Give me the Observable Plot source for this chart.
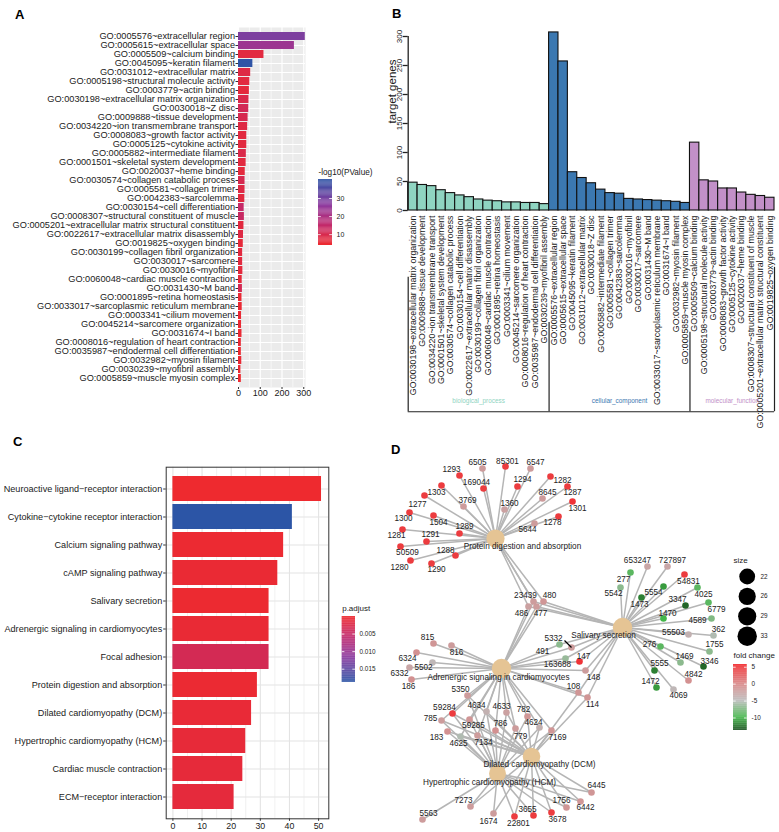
<!DOCTYPE html>
<html><head><meta charset="utf-8">
<script src="https://cdn.jsdelivr.net/npm/d3@7"></script>
<script src="https://cdn.jsdelivr.net/npm/@observablehq/plot@0.6"></script>
<style>
body{margin:0;background:#fff;}
#fig{position:relative;width:779px;height:832px;overflow:hidden;background:#fff;font-family:"Liberation Sans",Arial,Helvetica,sans-serif;}
.panel{position:absolute;}
.panel svg{overflow:visible;display:block;}
.tag{position:absolute;font-weight:bold;font-size:13px;line-height:1;color:#000;}
</style></head><body><div id="fig"></div>
<script>
// ---------------- DATA ----------------
const goTerms = [
 "GO:0005576~extracellular region","GO:0005615~extracellular space","GO:0005509~calcium binding",
 "GO:0045095~keratin filament","GO:0031012~extracellular matrix","GO:0005198~structural molecule activity",
 "GO:0003779~actin binding","GO:0030198~extracellular matrix organization","GO:0030018~Z disc",
 "GO:0009888~tissue development","GO:0034220~ion transmembrane transport","GO:0008083~growth factor activity",
 "GO:0005125~cytokine activity","GO:0005882~intermediate filament","GO:0001501~skeletal system development",
 "GO:0020037~heme binding","GO:0030574~collagen catabolic process","GO:0005581~collagen trimer",
 "GO:0042383~sarcolemma","GO:0030154~cell differentiation","GO:0008307~structural constituent of muscle",
 "GO:0005201~extracellular matrix structural constituent","GO:0022617~extracellular matrix disassembly",
 "GO:0019825~oxygen binding","GO:0030199~collagen fibril organization","GO:0030017~sarcomere",
 "GO:0030016~myofibril","GO:0060048~cardiac muscle contraction","GO:0031430~M band",
 "GO:0001895~retina homeostasis","GO:0033017~sarcoplasmic reticulum membrane","GO:0003341~cilium movement",
 "GO:0045214~sarcomere organization","GO:0031674~I band","GO:0008016~regulation of heart contraction",
 "GO:0035987~endodermal cell differentiation","GO:0032982~myosin filament","GO:0030239~myofibril assembly",
 "GO:0005859~muscle myosin complex"
];
const goCounts = [307,257,117,66,56,52,50,48,47,44,42,38,38,36,35,31,30,30,29,26,27,25,23,22,19,19,20,17,18,16,17,14,14,16,13,13,15,11,13];
const goLogP   = [28.5,23,7,40,8,7,6.5,9,11,10,8,7,7,9,7,6.5,10,8,7,14,13.5,7,8,6,7,7,6.5,6,10.5,5,5,5,5,5,5,4.5,5,4.5,4.2];
const goCategory = ["CC","CC","MF","CC","CC","MF","MF","BP","CC","BP","BP","MF","MF","CC","BP","MF","BP","CC","CC","BP","MF","MF","BP","MF","BP","CC","CC","BP","CC","BP","CC","BP","BP","CC","BP","BP","CC","BP","CC"];
const groupCodes = ["BP","CC","MF"];
const groupNames = ["biological_process","cellular_component","molecular_function"];
const groupColors = ["#8fd4c1","#3b78b1","#c290c8"];
const aTicks = [0,100,200,300];
const aMinor = [50,150,250];
const aLegendTicks = [10,20,30];
const bTicks = [0,50,100,150,200,250,300];

const keggTerms = ["Neuroactive ligand\u2212receptor interaction","Cytokine\u2212cytokine receptor interaction",
 "Calcium signaling pathway","cAMP signaling pathway","Salivary secretion","Adrenergic signaling in cardiomyocytes",
 "Focal adhesion","Protein digestion and absorption","Dilated cardiomyopathy (DCM)",
 "Hypertrophic cardiomyopathy (HCM)","Cardiac muscle contraction","ECM\u2212receptor interaction"];
const keggCounts = [51,41,38,36,33,33,33,29,27,25,24,21];
const keggPadj   = [0.00002,0.0188,0.0003,0.0005,0.0002,0.0006,0.0034,0.0004,0.0007,0.0009,0.001,0.0012];
const cTicks = [0,10,20,30,40,50];
const cMinor = [5,15,25,35,45];
const cLegendTicks = [0.005,0.010,0.015];

// network (layout coordinates)
const hubCodes  = ["P","S","A","D","H"];
const hubNames  = ["Protein digestion and absorption","Salivary secretion","Adrenergic signaling in cardiomyocytes","Dilated cardiomyopathy (DCM)","Hypertrophic cardiomyopathy (HCM)"];
const hubSizes  = [29,33,33,27,25];
const hubX      = [495,622,501,531,497];
const hubY      = [538,627,668,756,773];
const hubLabelX = [522,603,498,539,489];
const hubLabelY = [546,635,677,764,782];
// [gene id, fold change, x, y, label x, label y, hubs]
const genes = [
 ["6505",-2,482,468,477,462,"P"],["85301",4.5,505,466,507,461,"P"],["6547",-2,530,468,535,462,"P"],
 ["1293",4.5,459,475,451,469,"P"],["169044",4.5,483,488,476,482,"P"],["1294",4.5,517,486,522,479,"P"],
 ["1282",4.5,550,476,562,480,"P"],["1287",4.5,567,486,572,492,"P"],["8645",-2,542,498,547,492,"P"],
 ["1301",5,572,501,577,508,"P"],["1303",4.5,441,485,436,492,"P"],["3769",-2,463,506,467,500,"P"],
 ["1360",-2.5,504,509,509,503,"P"],["1277",4.5,424,495,417,504,"P"],["1300",4.5,409,512,403,518,"P"],
 ["1504",4.5,433,515,438,522,"P"],["1289",4.5,459,533,464,526,"P"],["1278",4.5,558,516,552,522,"P"],
 ["5644",-2,534,523,527,529,"P"],["1281",4.5,402,529,396,535,"P"],["1291",4.5,426,541,430,534,"P"],
 ["50509",4.5,400,546,407,552,"P"],["1288",4.5,455,555,445,550,"P"],["1280",4.5,410,560,399,567,"P"],
 ["1290",4.5,431,563,436,569,"P"],
 ["23439",-2,533,601,525,595,"PSA"],["480",-1.5,543,601,549,595,"PSA"],
 ["486",-2.5,528,606,521,613,"PSA"],["477",-2,536,606,540,613,"PSA"],
 ["653247",-3,647,566,637,560,"S"],["727897",-3,667,566,672,560,"S"],["277",-9,630,572,623,579,"S"],
 ["54831",4.5,684,574,688,581,"S"],["5542",-7,620,587,613,593,"S"],["5554",-11,663,586,653,592,"S"],
 ["4025",-9,697,587,703,594,"S"],["1473",-12,641,597,639,604,"S"],["3347",-13,685,605,677,599,"S"],
 ["6779",-9,708,602,716,609,"S"],["1470",-10,663,618,667,613,"S"],["4589",-7.5,711,618,697,620,"S"],
 ["55503",-4,688,634,673,632,"S"],["362",-5.5,713,635,718,629,"S"],["276",-9,660,646,649,644,"S"],
 ["1755",-7,709,651,714,644,"S"],["1469",-7,680,662,684,656,"S"],["3346",-13,703,666,709,661,"S"],
 ["5555",-12,654,670,659,663,"S"],["4842",-1,688,680,693,674,"S"],["1472",-11,656,687,650,681,"S"],
 ["4069",-4.5,673,689,678,695,"S"],
 ["5332",-2,571,647,553,638,"SA"],["491",-7,559,644,542,651,"SA"],["163688",-6.5,565,658,557,664,"SA"],
 ["147",5,579,661,583,656,"SA"],["148",-2,585,670,593,677,"SA"],
 ["108",-1.5,578,692,573,686,"SAD"],["114",-1.5,587,697,592,704,"SAD"],
 ["815",-1.5,433,643,427,637,"A"],["816",-2,451,645,456,652,"A"],["6324",-1,416,652,407,658,"A"],
 ["5502",-4.5,432,662,423,667,"A"],["6332",-3,409,667,399,673,"A"],["186",-1,411,679,408,686,"A"],
 ["5350",-2,467,695,460,689,"ADH"],["59284",4.5,452,713,444,707,"ADH"],["4634",-4,486,711,476,705,"ADH"],
 ["4633",-2.5,506,712,501,706,"ADH"],["782",-1.5,527,716,523,709,"ADH"],["785",-2,441,720,430,718,"ADH"],
 ["59285",-1.5,469,719,473,725,"ADH"],["786",-1,495,730,500,723,"ADH"],["4624",-4,539,727,533,722,"ADH"],
 ["183",-1,447,731,436,737,"DH"],["4625",-5.5,460,736,458,743,"ADH"],["7134",-2,477,735,483,742,"ADH"],
 ["779",-2,515,728,520,736,"ADH"],["7169",-1.5,551,730,557,737,"ADH"],
 ["6445",-1.5,591,792,596,785,"DH"],["7273",-2,470,806,463,800,"DH"],["1756",-1.5,566,807,561,800,"DH"],
 ["6442",-1.5,580,801,585,807,"DH"],["3655",4.5,533,815,527,809,"DH"],["3678",4.5,551,812,557,819,"DH"],
 ["5563",-2,422,819,428,813,"H"],["1674",-2,493,813,488,821,"DH"],["22801",4.5,514,816,518,823,"DH"]
];
const pointerLinks = [["5332",564,640]]; // repel segment from label to node
const sizeBreaks = [22,26,29,33];
const fcTicks = [5,0,-5,-10];

// ---------------- STYLE ----------------
const FONT = '"Liberation Sans", Arial, Helvetica, sans-serif';
const INK = "#1a1a1a";
const gradColors = ["#ee2a2f","#c22a6c","#8e3a9e","#2c55a6"];
const gradPos = [0, 0.3, 0.6, 1];
const baseStyle = {background:"transparent", overflow:"visible", maxWidth:"none", fontFamily:FONT, color:INK};
const aDom = [4, 40.5], cDom = [0, 0.0188];
const colorA = {type:"linear", domain:gradPos.map(t=>aDom[0]+t*(aDom[1]-aDom[0])), range:gradColors};
const colorC = {type:"linear", domain:gradPos.map(t=>cDom[0]+t*(cDom[1]-cDom[0])), range:gradColors};
const colorD = {type:"linear", domain:[-13.7,-10,-5,0,5.8], range:["#1a5320","#43b649","#bcbcbc","#d98686","#f2262a"]};

const fig = document.getElementById("fig");
function place(node, left, top){ const d=document.createElement("div"); d.className="panel"; d.style.left=left+"px"; d.style.top=top+"px"; d.appendChild(node); fig.appendChild(d); }
function tag(t, left, top){ const d=document.createElement("div"); d.className="tag"; d.textContent=t; d.style.left=left+"px"; d.style.top=top+"px"; fig.appendChild(d); }

// ---------------- PANEL A ----------------
const aRows = goTerms.map((t,i)=>({term:t, count:goCounts[i], logp:goLogP[i]}));
place(Plot.plot({
  width:320, height:400, marginLeft:238, marginRight:15, marginTop:27, marginBottom:13,
  style: baseStyle,
  x:{domain:[0,308], label:null},
  y:{domain:goTerms, paddingInner:0.1, paddingOuter:0.15, label:null},
  color: colorA,
  marks:[
    Plot.frame({fill:"#ebebeb", stroke:"none"}),
    Plot.gridX({ticks:aMinor, stroke:"#fff", strokeOpacity:1, strokeWidth:0.6}),
    Plot.gridX({ticks:aTicks, stroke:"#fff", strokeOpacity:1, strokeWidth:1.2}),
    Plot.gridY({stroke:"#fff", strokeOpacity:1, strokeWidth:1.2}),
    Plot.barX(aRows, {x:"count", y:"term", fill:"logp"}),
    Plot.axisX({ticks:aTicks, tickSize:2, tickPadding:0.5, fontSize:9, label:null, stroke:"#333"}),
    Plot.axisY({tickSize:2.5, tickPadding:1, fontSize:9.2, label:null, stroke:"#333"})
  ]
}), 0, 0);

// legend A
const aStops = d3.range(4, 40.5, 0.5);
place(Plot.plot({
  width:60, height:90, margin:0, style: baseStyle,
  x:{domain:[0,1], range:[0,14], axis:null},
  y:{domain:aDom, range:[80,14], axis:null},
  color: colorA,
  marks:[
    Plot.rect(aStops, {x1:0, x2:1, y1:d=>d, y2:d=>Math.min(40.5,d+0.6), fill:d=>d}),
    Plot.ruleY(aLegendTicks, {x1:0, x2:0.2, stroke:"#fff", strokeWidth:0.8}),
    Plot.ruleY(aLegendTicks, {x1:0.8, x2:1, stroke:"#fff", strokeWidth:0.8}),
    Plot.text(aLegendTicks, {x:1, y:d=>d, text:d=>String(d), dx:4, textAnchor:"start", fontSize:7}),
    Plot.text(["-log10(PValue)"], {x:0, y:40.5, text:d=>d, dy:-7, textAnchor:"start", fontSize:8.2})
  ]
}), 318, 165);

// ---------------- PANEL B ----------------
const bRows = groupCodes.flatMap(g => d3.sort(goTerms.map((t,i)=>({term:t, count:goCounts[i], group:goCategory[i]})).filter(d=>d.group===g), d=>-d.count));
const bGroups = groupCodes.map((g,k)=>{ const start = bRows.findIndex(d=>d.group===g); const n = bRows.filter(d=>d.group===g).length; return {code:g, name:groupNames[k], start, n, mid:start+n/2}; });
const bracketBottom = -347, groupLabelY = -329;
const bracketTops = [-115,-193,-210,-98];
const bounds = [...bGroups.map(g=>g.start), bRows.length].map((x,i)=>({x, top:bracketTops[i]}));
place(Plot.plot({
  width:459, height:420, marginLeft:87.7, marginRight:5, marginTop:36, marginBottom:210,
  style: baseStyle,
  x:{domain:[0,bRows.length], axis:null},
  y:{domain:[0,300], axis:null},
  color:{domain:groupCodes, range:groupColors},
  marks:[
    Plot.rect(bRows, {x1:(d,i)=>i, x2:(d,i)=>i+1, y1:0, y2:"count", fill:"group", stroke:"#111", strokeWidth:1.1}),
    Plot.ruleX([0], {y1:0, y2:300, stroke:"#222", strokeWidth:1.3}),
    Plot.axisY({ticks:bTicks, tickSize:5, tickPadding:1, tickRotate:-90, fontSize:8, label:null, stroke:"#222", strokeWidth:1.3}),
    Plot.text(["target genes"], {text:d=>d, frameAnchor:"left", dx:-16, rotate:-90, fontSize:11.5}),
    Plot.text(bRows, {x:(d,i)=>i+0.5, y:0, text:"term", rotate:-90, textAnchor:"end", dy:5, fontSize:8.8}),
    Plot.ruleY([bracketBottom], {x1:0, x2:bRows.length, stroke:"#222", strokeWidth:1.2}),
    Plot.ruleX(bounds, {x:"x", y1:"top", y2:bracketBottom, stroke:"#222", strokeWidth:1.2}),
    Plot.text(bGroups, {x:"mid", y:groupLabelY, text:"name", fill:"code", fontSize:6.4})
  ]
}), 320, 0);

// ---------------- PANEL C ----------------
const kRows = keggTerms.map((t,i)=>({term:t, count:keggCounts[i], padj:keggPadj[i]}));
place(Plot.plot({
  width:335, height:412, marginLeft:165.7, marginRight:6.7, marginTop:46.7, marginBottom:13.7,
  style: baseStyle,
  x:{domain:[-2.3,53.5], label:null},
  y:{domain:keggTerms, paddingInner:0.1, paddingOuter:0.15, label:null},
  color: colorC,
  marks:[
    Plot.gridX({ticks:cMinor, stroke:"#e6e6e6", strokeOpacity:1, strokeWidth:0.6}),
    Plot.gridX({ticks:cTicks, stroke:"#e3e3e3", strokeOpacity:1, strokeWidth:1.1}),
    Plot.gridY({stroke:"#e3e3e3", strokeOpacity:1, strokeWidth:1.1}),
    Plot.barX(kRows, {x:"count", y:"term", fill:"padj"}),
    Plot.frame({stroke:"#333", strokeWidth:1}),
    Plot.axisX({ticks:cTicks, tickSize:2.5, tickPadding:1, fontSize:8.8, label:null, stroke:"#333"}),
    Plot.axisY({tickSize:2.5, tickPadding:1.5, fontSize:9.1, label:null, stroke:"#333"})
  ]
}), 0, 420);

// legend C
const cStops = d3.range(0, 0.0188, 0.0002);
place(Plot.plot({
  width:50, height:90, margin:0, style: baseStyle,
  x:{domain:[0,1], range:[5.7,19], axis:null},
  y:{domain:cDom, range:[16,82], axis:null},
  color: colorC,
  marks:[
    Plot.rect(cStops, {x1:0, x2:1, y1:d=>d, y2:d=>Math.min(0.0188,d+0.00025), fill:d=>d}),
    Plot.ruleY(cLegendTicks, {x1:0, x2:0.2, stroke:"#fff", strokeWidth:0.8}),
    Plot.ruleY(cLegendTicks, {x1:0.8, x2:1, stroke:"#fff", strokeWidth:0.8}),
    Plot.text(cLegendTicks, {x:1, y:d=>d, text:d=>d.toFixed(3), dx:4, textAnchor:"start", fontSize:6.4}),
    Plot.text(["p.adjust"], {x:0, y:0, text:d=>d, dy:-8, textAnchor:"start", fontSize:8})
  ]
}), 336, 600);

// ---------------- PANEL D ----------------
const hubs = hubCodes.map((c,i)=>({code:c, name:hubNames[i], size:hubSizes[i], x:hubX[i], y:hubY[i], lx:hubLabelX[i], ly:hubLabelY[i]}));
const hubBy = new Map(hubs.map(h=>[h.code,h]));
const nodes = genes.map(([id,fc,x,y,lx,ly,hs])=>({id,fc,x,y,lx,ly,hs}));
const nodeBy = new Map(nodes.map(n=>[n.id,n]));
const edges = nodes.flatMap(n => [...n.hs].map(c => ({x1:hubBy.get(c).x, y1:hubBy.get(c).y, x2:n.x, y2:n.y})));
const pointers = pointerLinks.map(([id,x,y])=>({x1:x, y1:y, x2:nodeBy.get(id).x, y2:nodeBy.get(id).y}));
const fcTop = 664, fcBottom = 730, fcMax = 5.8, fcMin = -13.7;
const fcY = v => fcTop + (fcMax - v) * (fcBottom - fcTop) / (fcMax - fcMin);
const fcStops = d3.range(fcMin, fcMax, 0.2);
const legX = 733, legX2 = 746.7;
place(Plot.plot({
  width:419, height:392, margin:0, style: baseStyle,
  x:{domain:[360,779], range:[0,419], axis:null},
  y:{domain:[440,832], range:[0,392], axis:null},
  r:{domain:[0,33], range:[0,9.7]},
  color: colorD,
  marks:[
    Plot.link(edges, {x1:"x1", y1:"y1", x2:"x2", y2:"y2", stroke:"#b5b5b5", strokeWidth:1.5}),
    Plot.dot(hubs, {x:"x", y:"y", r:"size", fill:"#E5C494"}),
    Plot.dot(nodes, {x:"x", y:"y", r:3.3, fill:"fc"}),
    Plot.link(pointers, {x1:"x1", y1:"y1", x2:"x2", y2:"y2", stroke:"#000", strokeWidth:1.2}),
    Plot.text(nodes, {x:"lx", y:"ly", text:"id", fontSize:8.2, fill:"#222"}),
    Plot.text(hubs, {x:"lx", y:"ly", text:"name", fontSize:8.2, fill:"#222"}),
    // size legend
    Plot.text(["size"], {x:()=>legX, y:()=>560, text:d=>d, textAnchor:"start", fontSize:8}),
    Plot.dot(sizeBreaks, {x:()=>legX2, y:(d,i)=>576+i*19.9, r:d=>d, fill:"#000"}),
    Plot.text(sizeBreaks, {x:()=>760, y:(d,i)=>576+i*19.9, text:d=>String(d), textAnchor:"start", fontSize:6.4}),
    // fold change legend
    Plot.text(["fold change"], {x:()=>legX, y:()=>655, text:d=>d, textAnchor:"start", fontSize:8}),
    Plot.rect(fcStops, {x1:()=>legX, x2:()=>legX2, y1:d=>fcY(d), y2:d=>fcY(Math.min(fcMax,d+0.25)), fill:d=>d}),
    Plot.ruleY(fcTicks, {y:d=>fcY(d), x1:()=>legX, x2:()=>legX+2.7, stroke:"#fff", strokeWidth:0.8}),
    Plot.ruleY(fcTicks, {y:d=>fcY(d), x1:()=>legX2-2.7, x2:()=>legX2, stroke:"#fff", strokeWidth:0.8}),
    Plot.text(fcTicks, {x:()=>751, y:d=>fcY(d), text:d=>String(d), textAnchor:"start", fontSize:6.4})
  ]
}), 360, 440);

// panel tags
tag("A", 15, 8); tag("B", 392, 7); tag("C", 13, 435); tag("D", 391, 443);
</script></body></html>
